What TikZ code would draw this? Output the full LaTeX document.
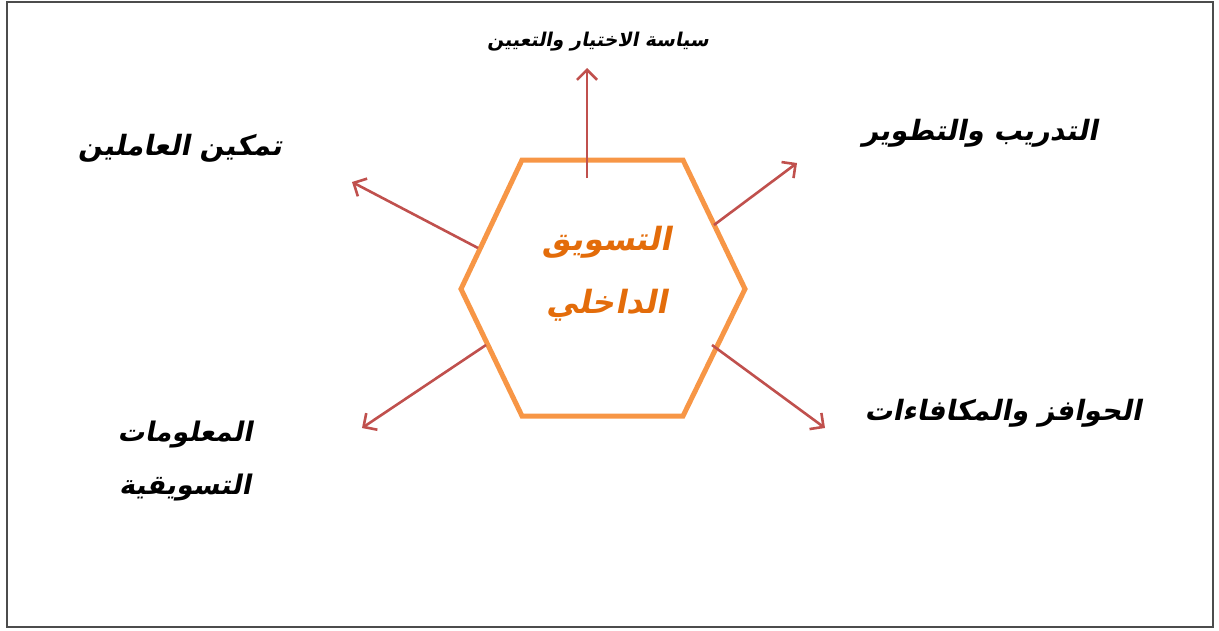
\documentclass[tikz,border=0pt]{standalone}
\usepackage{fontspec}
\TeXXeTstate=1
\newfontfamily\arabicfont[Script=Arabic,FakeSlant=0.2]{DejaVu Sans Bold}
\usetikzlibrary{arrows.meta}
\definecolor{hexorange}{HTML}{F79646}
\definecolor{txtorange}{HTML}{E36C0A}
\definecolor{arrred}{HTML}{C0504D}
\tikzset{
  conn/.style={draw=arrred, line width=2.6pt, -{Straight Barb[length=10pt,width=20pt,line width=2.6pt]}},
  lbl/.style={font=\arabicfont\fontsize{28}{34}\selectfont, align=center, inner sep=0pt},
}
\begin{document}
\begin{tikzpicture}[x=1pt,y=-1pt]
\useasboundingbox (0,0) rectangle (1219,630);
\draw[draw=black!70, line width=2pt] (7,2) rectangle (1213,627);
\draw[draw=hexorange, line width=5pt, line join=miter] (522,160) -- (683,160) -- (745,289) -- (683,416) -- (522,416) -- (461,289) -- cycle;
\node[lbl, text=txtorange, font=\arabicfont\fontsize{32}{63}\selectfont] (center) at (607,274) {\beginR التسويق\endR\\\beginR الداخلي\endR};
\coordinate (s1) at (587,178);
\coordinate (s2) at (478,248);
\coordinate (s3) at (486,345);
\coordinate (s4) at (714,225);
\coordinate (s5) at (712,345);
\coordinate (e1) at (587,68);
\coordinate (e2) at (352,182);
\coordinate (e3) at (362,428);
\coordinate (e4) at (797,163);
\coordinate (e5) at (825,428);
\draw[conn] (s1) -- (e1);
\draw[conn] (s2) -- (e2);
\draw[conn] (s3) -- (e3);
\draw[conn] (s4) -- (e4);
\draw[conn] (s5) -- (e5);
\node[lbl, font=\arabicfont\fontsize{19}{22}\selectfont] (t1) at (598,42) {\beginR سياسة الاختيار والتعيين\endR};
\node[lbl] (t2) at (180,148) {\beginR تمكين العاملين\endR};
\node[lbl] (t3) at (980,133) {\beginR التدريب والتطوير\endR};
\node[lbl] (t4) at (1003,413) {\beginR الحوافز والمكافاءات\endR};
\node[lbl, font=\arabicfont\fontsize{27}{53}\selectfont] (t5) at (185,461) {\beginR المعلومات\endR\\\beginR التسويقية\endR};
\end{tikzpicture}
\end{document}
